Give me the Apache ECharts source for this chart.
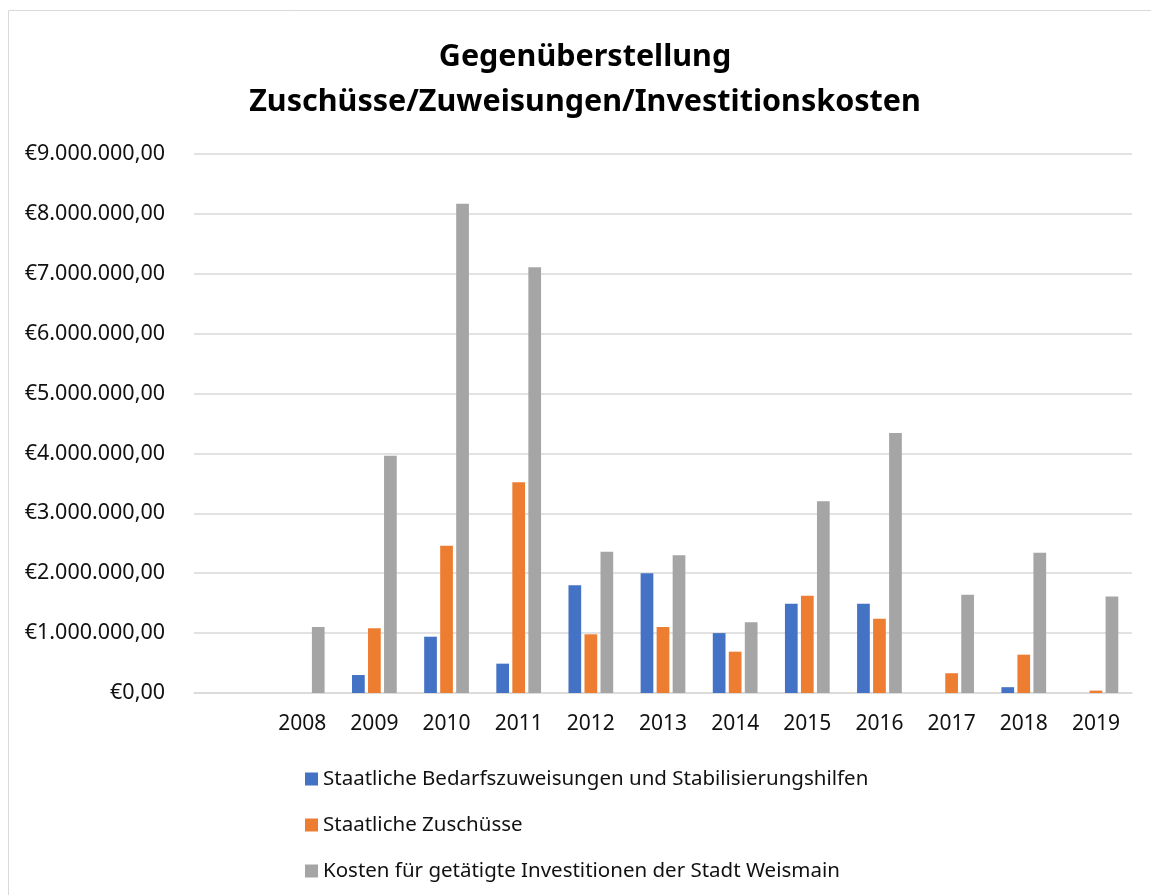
<!DOCTYPE html>
<html>
<head>
<meta charset="utf-8">
<script src="https://cdn.jsdelivr.net/npm/echarts@6/dist/echarts.min.js"></script>
<style>
html,body{margin:0;padding:0;background:#fff;}
#chart{width:1151px;height:895px;}
</style>
</head>
<body>
<div id="chart"></div>
<script>
var categories = ['', '2008', '2009', '2010', '2011', '2012', '2013', '2014', '2015', '2016', '2017', '2018', '2019'];
var bedarfszuweisungen = [null, 0, 300000, 940000, 490000, 1800000, 2000000, 1000000, 1490000, 1490000, 0, 97000, 0];
var zuschuesse = [null, 0, 1080000, 2460000, 3520000, 980000, 1100000, 690000, 1625000, 1240000, 330000, 640000, 40000];
var investitionen = [null, 1100000, 3960000, 8170000, 7110000, 2360000, 2300000, 1180000, 3200000, 4340000, 1640000, 2340000, 1610000];
var seriesNames = ['Staatliche Bedarfszuweisungen und Stabilisierungshilfen', 'Staatliche Zuschüsse', 'Kosten für getätigte Investitionen der Stadt Weismain'];
var titleLines = ['Gegenüberstellung', 'Zuschüsse/Zuweisungen/Investitionskosten'];

function euro(v) {
  var s = Math.round(v).toString().replace(/\B(?=(\d{3})+(?!\d))/g, '.');
  return '€' + s + ',00';
}

var FONT = 'Noto Sans';
var chart = echarts.init(document.getElementById('chart'));
chart.setOption({
  animation: false,
  textStyle: {fontFamily: FONT},
  color: ['#4472C4', '#ED7D31', '#A5A5A5'],
  title: {
    text: titleLines.join('\n'),
    left: 580,
    textAlign: 'center',
    top: 30,
    textStyle: {fontFamily: FONT, fontWeight: 'bold', fontSize: 30.5, lineHeight: 45, color: '#000'}
  },
  graphic: [{
    type: 'rect', shape: {x: 8.5, y: 10.5, width: 1200, height: 1000},
    style: {fill: 'none', stroke: '#d9d9d9', lineWidth: 1}
  }],
  legend: {
    orient: 'vertical',
    left: 300,
    top: 763,
    itemWidth: 13,
    itemHeight: 13,
    itemGap: 24,
    icon: 'rect',
    textStyle: {fontFamily: FONT, fontSize: 20.5, lineHeight: 22, color: '#111'},
    data: seriesNames
  },
  grid: {left: 194, right: 19, top: 154, bottom: 202, containLabel: false},
  xAxis: {
    type: 'category',
    data: categories,
    axisLine: {lineStyle: {color: '#d9d9d9', width: 1.5}},
    axisTick: {show: false},
    axisLabel: {fontFamily: FONT, fontSize: 21, color: '#111', margin: 21}
  },
  yAxis: {
    type: 'value',
    min: 0, max: 9000000, interval: 1000000,
    axisLine: {show: false},
    axisTick: {show: false},
    splitLine: {lineStyle: {color: '#d9d9d9', width: 1.5}},
    axisLabel: {fontFamily: FONT, fontSize: 21.5, color: '#111', margin: 29, formatter: euro}
  },
  series: [
    {name: seriesNames[0], type: 'bar', data: bedarfszuweisungen, barGap: '26%', barCategoryGap: '38%'},
    {name: seriesNames[1], type: 'bar', data: zuschuesse, barGap: '26%', barCategoryGap: '38%'},
    {name: seriesNames[2], type: 'bar', data: investitionen, barGap: '26%', barCategoryGap: '38%'}
  ]
});
</script>
</body>
</html>
